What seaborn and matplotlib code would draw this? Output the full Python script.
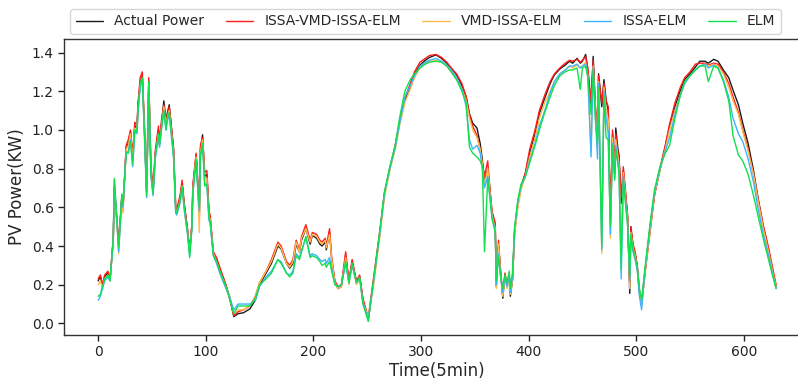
import numpy as np
import pandas as pd
import matplotlib
matplotlib.use("Agg")
import matplotlib.pyplot as plt
import seaborn as sns

# ---------------- data ----------------
time_idx = [
    0, 2, 4, 6, 9, 11, 14, 15, 18, 19,
    22, 23, 26, 28, 30, 32, 34, 36, 37, 39,
    41, 43, 45, 47, 49, 51, 53, 56, 57, 59,
    61, 63, 64, 66, 70, 72, 73, 76, 78, 80,
    83, 85, 87, 88, 91, 92, 94, 95, 97, 99,
    101, 103, 104, 107, 110, 113, 118, 122, 126, 130,
    135, 141, 146, 150, 156, 161, 167, 170, 175, 178,
    181, 184, 187, 189, 193, 197, 199, 203, 206, 208,
    211, 212, 215, 217, 220, 223, 226, 230, 233, 236,
    240, 243, 246, 251, 256, 262, 266, 271, 276, 280,
    285, 290, 294, 299, 304, 308, 314, 319, 324, 328,
    333, 338, 342, 345, 348, 352, 355, 357, 359, 362,
    364, 366, 369, 370, 372, 374, 376, 378, 380, 382,
    383, 385, 387, 390, 393, 397, 401, 406, 410, 415,
    420, 424, 429, 434, 438, 441, 445, 448, 450, 453,
    455, 458, 460, 462, 464, 465, 468, 470, 472, 474,
    476, 478, 480, 481, 483, 484, 486, 488, 490, 492,
    494, 495, 497, 499, 501, 503, 505, 508, 513, 517,
    522, 527, 531, 536, 541, 545, 550, 555, 559, 564,
    567, 572, 576, 581, 586, 590, 595, 599, 604, 609,
    613, 618, 623, 627, 630,
]

actual_power = [
    0.22, 0.245, 0.19, 0.24, 0.26, 0.225, 0.43, 0.71, 0.48, 0.40,
    0.66, 0.59, 0.91, 0.93, 0.99, 0.85, 1.02, 1.01, 1.12, 1.24,
    1.28, 1.00, 0.68, 1.25, 0.80, 0.68, 0.87, 1.00, 0.93, 1.04,
    1.15, 1.05, 1.08, 1.13, 0.90, 0.60, 0.58, 0.64, 0.72, 0.61,
    0.48, 0.38, 0.50, 0.70, 0.87, 0.78, 0.56, 0.90, 0.975, 0.76,
    0.77, 0.56, 0.55, 0.36, 0.33, 0.28, 0.21, 0.14, 0.035, 0.05,
    0.055, 0.075, 0.12, 0.20, 0.26, 0.31, 0.40, 0.385, 0.31, 0.285,
    0.31, 0.41, 0.37, 0.43, 0.49, 0.41, 0.455, 0.44, 0.41, 0.40,
    0.42, 0.38, 0.47, 0.33, 0.21, 0.18, 0.19, 0.35, 0.21, 0.32,
    0.21, 0.24, 0.12, 0.02, 0.22, 0.48, 0.67, 0.80, 0.91, 1.035,
    1.155, 1.225, 1.29, 1.335, 1.36, 1.375, 1.388, 1.37, 1.345, 1.32,
    1.285, 1.23, 1.17, 1.085, 1.035, 1.01, 0.93, 0.845, 0.74, 0.80,
    0.69, 0.57, 0.50, 0.19, 0.40, 0.26, 0.13, 0.25, 0.19, 0.24,
    0.14, 0.22, 0.48, 0.62, 0.71, 0.775, 0.88, 0.98, 1.085, 1.165,
    1.24, 1.285, 1.315, 1.335, 1.355, 1.345, 1.37, 1.345, 1.355, 1.39,
    1.31, 1.12, 1.38, 1.12, 0.95, 1.29, 1.12, 1.26, 1.155, 1.10,
    0.52, 0.98, 0.775, 1.01, 0.90, 0.87, 0.62, 0.79, 0.67, 0.55,
    0.155, 0.50, 0.40, 0.36, 0.29, 0.155, 0.10, 0.26, 0.50, 0.67,
    0.79, 0.915, 1.02, 1.12, 1.205, 1.26, 1.29, 1.325, 1.355, 1.355,
    1.345, 1.365, 1.355, 1.31, 1.27, 1.205, 1.13, 1.035, 0.93, 0.79,
    0.655, 0.50, 0.38, 0.26, 0.19,
]

issa_vmd_issa_elm = [
    0.23, 0.25, 0.20, 0.25, 0.27, 0.23, 0.44, 0.70, 0.50, 0.41,
    0.66, 0.58, 0.92, 0.95, 1.00, 0.87, 1.04, 1.02, 1.14, 1.27,
    1.30, 1.02, 0.70, 1.27, 0.82, 0.69, 0.89, 1.02, 0.94, 1.06,
    1.13, 1.04, 1.07, 1.12, 0.91, 0.61, 0.59, 0.66, 0.74, 0.62,
    0.49, 0.37, 0.51, 0.72, 0.88, 0.80, 0.55, 0.92, 0.96, 0.78,
    0.79, 0.58, 0.56, 0.37, 0.34, 0.29, 0.21, 0.13, 0.04, 0.06,
    0.07, 0.09, 0.14, 0.21, 0.27, 0.33, 0.42, 0.40, 0.32, 0.30,
    0.33, 0.43, 0.38, 0.45, 0.51, 0.43, 0.47, 0.46, 0.43, 0.42,
    0.44, 0.40, 0.49, 0.34, 0.22, 0.19, 0.20, 0.37, 0.22, 0.33,
    0.22, 0.25, 0.13, 0.03, 0.24, 0.49, 0.67, 0.80, 0.92, 1.04,
    1.16, 1.24, 1.30, 1.35, 1.37, 1.385, 1.39, 1.375, 1.35, 1.32,
    1.29, 1.24, 1.17, 1.08, 1.02, 0.97, 0.90, 0.83, 0.76, 0.84,
    0.70, 0.58, 0.52, 0.22, 0.43, 0.27, 0.15, 0.26, 0.20, 0.25,
    0.16, 0.23, 0.47, 0.61, 0.70, 0.78, 0.90, 1.00, 1.10, 1.18,
    1.25, 1.29, 1.32, 1.345, 1.36, 1.355, 1.365, 1.35, 1.36, 1.38,
    1.32, 1.15, 1.36, 1.13, 0.97, 1.28, 1.14, 1.24, 1.15, 1.12,
    0.55, 1.00, 0.80, 0.98, 0.88, 0.85, 0.65, 0.81, 0.69, 0.56,
    0.20, 0.50, 0.41, 0.37, 0.30, 0.17, 0.10, 0.25, 0.48, 0.66,
    0.80, 0.92, 1.03, 1.14, 1.22, 1.27, 1.30, 1.34, 1.345, 1.345,
    1.335, 1.345, 1.34, 1.30, 1.24, 1.17, 1.09, 1.00, 0.90, 0.77,
    0.65, 0.51, 0.39, 0.28, 0.20,
]

vmd_issa_elm = [
    0.20, 0.22, 0.18, 0.23, 0.25, 0.22, 0.42, 0.68, 0.46, 0.36,
    0.64, 0.57, 0.90, 0.92, 0.98, 0.84, 1.01, 1.00, 1.10, 1.22,
    1.27, 0.98, 0.66, 1.24, 0.78, 0.67, 0.86, 0.98, 0.92, 1.02,
    1.12, 1.03, 1.06, 1.10, 0.88, 0.59, 0.57, 0.63, 0.71, 0.58,
    0.47, 0.37, 0.49, 0.69, 0.86, 0.77, 0.47, 0.88, 0.95, 0.75,
    0.75, 0.55, 0.54, 0.36, 0.32, 0.27, 0.20, 0.14, 0.05, 0.07,
    0.07, 0.09, 0.14, 0.21, 0.27, 0.32, 0.41, 0.39, 0.31, 0.29,
    0.32, 0.42, 0.37, 0.44, 0.49, 0.42, 0.46, 0.45, 0.42, 0.41,
    0.43, 0.39, 0.46, 0.33, 0.21, 0.18, 0.19, 0.34, 0.20, 0.31,
    0.20, 0.23, 0.11, 0.03, 0.20, 0.46, 0.65, 0.79, 0.90, 1.02,
    1.14, 1.21, 1.27, 1.32, 1.345, 1.355, 1.36, 1.35, 1.33, 1.30,
    1.27, 1.21, 1.15, 1.06, 1.00, 0.96, 0.90, 0.82, 0.72, 0.80,
    0.68, 0.56, 0.49, 0.18, 0.41, 0.25, 0.14, 0.24, 0.18, 0.23,
    0.15, 0.22, 0.46, 0.60, 0.69, 0.76, 0.86, 0.96, 1.06, 1.14,
    1.20, 1.25, 1.29, 1.31, 1.33, 1.32, 1.335, 1.32, 1.33, 1.35,
    1.28, 0.89, 1.33, 1.10, 0.90, 1.25, 0.36, 1.22, 1.10, 1.05,
    0.44, 0.96, 0.77, 0.95, 0.86, 0.82, 0.40, 0.78, 0.66, 0.53,
    0.18, 0.47, 0.39, 0.35, 0.28, 0.16, 0.09, 0.25, 0.49, 0.67,
    0.79, 0.90, 1.00, 1.10, 1.18, 1.24, 1.28, 1.31, 1.33, 1.34,
    1.33, 1.34, 1.33, 1.29, 1.22, 1.15, 1.08, 0.99, 0.89, 0.77,
    0.64, 0.49, 0.37, 0.26, 0.19,
]

issa_elm = [
    0.12, 0.14, 0.18, 0.22, 0.24, 0.22, 0.43, 0.74, 0.47, 0.37,
    0.65, 0.60, 0.88, 0.89, 0.95, 0.81, 0.99, 0.98, 1.09, 1.22,
    1.26, 0.97, 0.65, 1.24, 0.76, 0.66, 0.85, 0.97, 0.91, 1.01,
    1.10, 1.00, 1.04, 1.08, 0.86, 0.57, 0.56, 0.62, 0.70, 0.59,
    0.46, 0.35, 0.48, 0.67, 0.84, 0.74, 0.58, 0.86, 0.92, 0.72,
    0.72, 0.53, 0.52, 0.35, 0.31, 0.26, 0.19, 0.14, 0.07, 0.10,
    0.10, 0.10, 0.12, 0.19, 0.24, 0.27, 0.33, 0.32, 0.26, 0.25,
    0.27, 0.36, 0.34, 0.38, 0.44, 0.35, 0.36, 0.35, 0.33, 0.32,
    0.33, 0.31, 0.34, 0.28, 0.20, 0.19, 0.20, 0.31, 0.21, 0.30,
    0.21, 0.23, 0.11, 0.02, 0.22, 0.48, 0.67, 0.80, 0.91, 1.03,
    1.17, 1.23, 1.28, 1.33, 1.35, 1.36, 1.37, 1.355, 1.335, 1.31,
    1.27, 1.21, 1.12, 0.95, 0.90, 0.92, 0.88, 0.80, 0.70, 0.76,
    0.66, 0.55, 0.48, 0.20, 0.36, 0.24, 0.16, 0.24, 0.19, 0.25,
    0.16, 0.24, 0.49, 0.63, 0.71, 0.76, 0.84, 0.93, 1.02, 1.10,
    1.19, 1.25, 1.29, 1.31, 1.33, 1.33, 1.34, 1.32, 1.33, 1.34,
    1.28, 0.86, 1.32, 1.08, 0.85, 1.24, 0.38, 1.20, 1.06, 0.99,
    0.46, 0.93, 0.75, 0.92, 0.83, 0.80, 0.23, 0.76, 0.64, 0.52,
    0.22, 0.45, 0.37, 0.33, 0.27, 0.14, 0.07, 0.27, 0.51, 0.68,
    0.80, 0.89, 0.96, 1.08, 1.18, 1.24, 1.28, 1.31, 1.33, 1.34,
    1.32, 1.335, 1.32, 1.26, 1.17, 1.06, 0.98, 0.94, 0.85, 0.73,
    0.60, 0.46, 0.35, 0.25, 0.18,
]

elm = [
    0.14, 0.15, 0.19, 0.23, 0.25, 0.22, 0.44, 0.75, 0.48, 0.39,
    0.67, 0.61, 0.88, 0.88, 0.94, 0.82, 1.00, 0.99, 1.10, 1.24,
    1.27, 0.98, 0.66, 1.25, 0.77, 0.67, 0.86, 0.98, 0.92, 1.02,
    1.10, 1.00, 1.05, 1.09, 0.87, 0.58, 0.57, 0.63, 0.71, 0.60,
    0.47, 0.34, 0.49, 0.68, 0.85, 0.75, 0.60, 0.87, 0.93, 0.71,
    0.72, 0.54, 0.53, 0.35, 0.32, 0.27, 0.20, 0.13, 0.05, 0.09,
    0.09, 0.09, 0.13, 0.20, 0.23, 0.26, 0.33, 0.31, 0.26, 0.24,
    0.26, 0.35, 0.33, 0.37, 0.45, 0.34, 0.35, 0.34, 0.32, 0.30,
    0.31, 0.29, 0.32, 0.27, 0.20, 0.19, 0.20, 0.32, 0.21, 0.31,
    0.21, 0.24, 0.10, 0.01, 0.23, 0.49, 0.68, 0.81, 0.92, 1.06,
    1.20, 1.26, 1.29, 1.32, 1.34, 1.35, 1.355, 1.35, 1.33, 1.30,
    1.26, 1.20, 1.14, 0.91, 0.88, 0.86, 0.84, 0.81, 0.37, 0.75,
    0.65, 0.54, 0.47, 0.22, 0.35, 0.24, 0.18, 0.25, 0.21, 0.27,
    0.18, 0.26, 0.50, 0.64, 0.72, 0.76, 0.83, 0.92, 1.00, 1.09,
    1.17, 1.23, 1.28, 1.30, 1.31, 1.31, 1.32, 1.21, 1.32, 1.33,
    1.27, 1.08, 1.31, 1.05, 0.93, 1.22, 0.40, 1.18, 0.96, 0.95,
    0.50, 0.92, 0.74, 0.90, 0.82, 0.78, 0.28, 0.74, 0.62, 0.50,
    0.24, 0.46, 0.38, 0.34, 0.29, 0.18, 0.12, 0.28, 0.52, 0.69,
    0.81, 0.88, 0.92, 1.06, 1.18, 1.25, 1.28, 1.31, 1.33, 1.33,
    1.25, 1.33, 1.32, 1.25, 1.15, 0.97, 0.87, 0.84, 0.77, 0.66,
    0.56, 0.44, 0.33, 0.24, 0.18,
]

model_names = ["Actual Power", "ISSA-VMD-ISSA-ELM", "VMD-ISSA-ELM", "ISSA-ELM", "ELM"]
model_colors = ["#1a1a1a", "#ff1a1a", "#ffbb4d", "#3cb4ff", "#12e04c"]

# ---------------- build long-form table ----------------
series = [actual_power, issa_vmd_issa_elm, vmd_issa_elm, issa_elm, elm]
frames = []
for name, vals in zip(model_names, series):
    frames.append(pd.DataFrame({"Time": time_idx, "Power": vals, "Model": name}))
df = pd.concat(frames, ignore_index=True)

sns.set_style("ticks")
plt.rcParams["font.family"] = ["DejaVu Sans"]

fig = plt.figure(figsize=(7.98, 3.81), dpi=100)
ax = fig.add_axes([64.3 / 798, 46 / 381, 745.7 / 798, 296 / 381])

sns.lineplot(
    data=df, x="Time", y="Power", hue="Model", hue_order=model_names,
    palette=dict(zip(model_names, model_colors)), estimator=None,
    linewidth=1.0, ax=ax, sort=False,
)

ax.set_xlim(-31.5, 661.5)
ax.set_ylim(-0.06, 1.47)
ax.set_xticks([0, 100, 200, 300, 400, 500, 600])
ax.set_yticks([0.0, 0.2, 0.4, 0.6, 0.8, 1.0, 1.2, 1.4])
ax.set_yticklabels(["0.0", "0.2", "0.4", "0.6", "0.8", "1.0", "1.2", "1.4"])
ax.tick_params(labelsize=10, colors="#222222", length=4, width=1)
ax.set_xlabel("Time(5min)", fontsize=12, labelpad=2)
ax.set_ylabel("PV Power(KW)", fontsize=12, labelpad=4)
for sp in ax.spines.values():
    sp.set_color("#333333")
    sp.set_linewidth(1.0)
ax.spines["right"].set_visible(False)

handles, labels = ax.get_legend_handles_labels()
ax.legend(
    handles, labels, loc="lower left", ncol=5, mode="expand",
    bbox_to_anchor=(70 / 798, 1 - 34 / 381, 711 / 798, 26 / 381),
    bbox_transform=fig.transFigure, fontsize=10, frameon=True,
    edgecolor="#cccccc", fancybox=True, borderaxespad=0.0,
    handlelength=2.0, borderpad=0.4,
)

fig.savefig("out.png", dpi=100)
